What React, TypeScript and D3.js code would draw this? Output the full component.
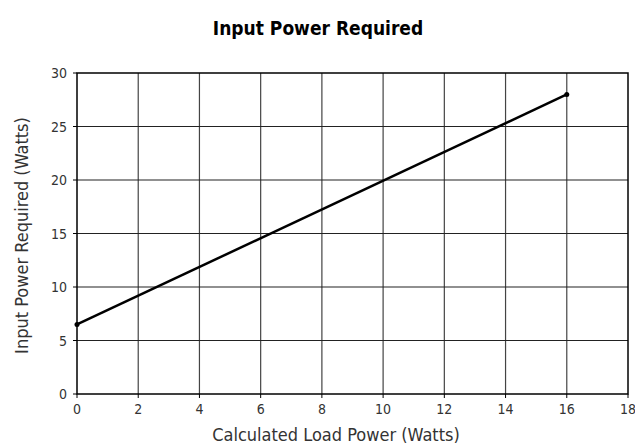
import React, { useEffect } from 'react';
import * as d3 from 'd3';

// data
const loadPower = [0, 16];
const inputPower = [6.5, 28];
const xTicks = [0, 2, 4, 6, 8, 10, 12, 14, 16, 18];
const yTicks = [0, 5, 10, 15, 20, 25, 30];

const title = 'Input Power Required';
const xTitle = 'Calculated Load Power (Watts)';
const yTitle = 'Input Power Required (Watts)';

const W = 635;
const H = 447;
const margin = { top: 73, right: 7, bottom: 53, left: 77 };
const font = '"Liberation Sans Narrow", "DejaVu Sans Condensed", "Arial Narrow", sans-serif';

const App: React.FC = () => {
  useEffect(() => {
    document.body.style.margin = '0';
  }, []);

  const x = d3.scaleLinear().domain([0, 18]).range([margin.left, W - margin.right]);
  const y = d3.scaleLinear().domain([0, 30]).range([H - margin.bottom, margin.top]);

  const pts: [number, number][] = loadPower.map((v, i) => [v, inputPower[i]]);
  const line = d3.line<[number, number]>()
    .x(d => x(d[0]))
    .y(d => y(d[1]));

  const x0 = x(0), x1 = x(18), y0 = y(0), y1 = y(30);

  return (
    <svg width={W} height={H} style={{ display: 'block', background: '#fff' }}>
      <text x={318} y={35} textAnchor="middle" fontFamily={font} fontWeight="bold" fontSize={19} fill="#000">
        {title}
      </text>

      {/* grid */}
      {xTicks.slice(1, -1).map(t => (
        <line key={'gx' + t} x1={x(t)} x2={x(t)} y1={y1} y2={y0} stroke="#444" strokeWidth={1.2} />
      ))}
      {yTicks.slice(1, -1).map(t => (
        <line key={'gy' + t} x1={x0} x2={x1} y1={y(t)} y2={y(t)} stroke="#222" strokeWidth={1.2} />
      ))}

      {/* frame */}
      <rect x={x0} y={y1} width={x1 - x0} height={y0 - y1} fill="none" stroke="#000" strokeWidth={1.5} />

      {/* ticks + labels */}
      {xTicks.map(t => (
        <g key={'tx' + t}>
          <line x1={x(t)} x2={x(t)} y1={y0} y2={y0 + 4} stroke="#000" strokeWidth={1} />
          <text x={x(t)} y={y0 + 20} textAnchor="middle" fontFamily={font} fontSize={14} fill="#333">
            {t}
          </text>
        </g>
      ))}
      {yTicks.map(t => (
        <g key={'ty' + t}>
          <line x1={x0 - 4} x2={x0} y1={y(t)} y2={y(t)} stroke="#000" strokeWidth={1} />
          <text x={x0 - 10} y={y(t) + 5} textAnchor="end" fontFamily={font} fontSize={14} fill="#333">
            {t}
          </text>
        </g>
      ))}

      {/* series */}
      <path d={line(pts) || ''} fill="none" stroke="#000" strokeWidth={2.5} />
      {pts.map((d, i) => (
        <circle key={'p' + i} cx={x(d[0])} cy={y(d[1])} r={2.5} fill="#000" />
      ))}

      <text x={336} y={441} textAnchor="middle" fontFamily={font} fontSize={18} fill="#333">
        {xTitle}
      </text>
      <text
        transform={`translate(28, ${(y0 + y1) / 2 + 2}) rotate(-90)`}
        textAnchor="middle"
        fontFamily={font}
        fontSize={18}
        fill="#333"
      >
        {yTitle}
      </text>
    </svg>
  );
};

export default App;
